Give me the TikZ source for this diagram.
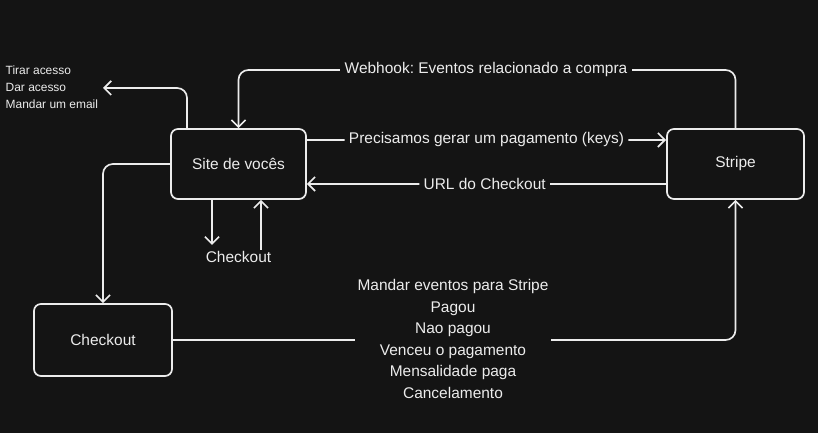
\documentclass[tikz,border=0pt]{standalone}
\usepackage{fontspec}
\setmainfont{Liberation Sans}
\usepackage{tikz}
\usetikzlibrary{arrows.meta,positioning}
\frenchspacing
\definecolor{bg}{RGB}{20,20,20}
\definecolor{ink}{RGB}{236,236,236}
\tikzstyle{box}   = [draw=ink, line width=1.2pt, rounded corners=5pt, fill=bg, text=ink, font=\fontsize{11}{13}\selectfont]
\tikzstyle{arrow} = [draw=ink, line width=1.2pt, rounded corners=7pt, -{Straight Barb[length=5pt,width=10pt]}]
\tikzstyle{lbl}   = [fill=bg, text=ink, inner xsep=3pt, inner ysep=1pt, font=\fontsize{11}{13}\selectfont]
\begin{document}
\begin{tikzpicture}[x=0.025cm,y=0.025cm]
        \fill[bg] (0,0) rectangle (818,433);

        \node[box, minimum width=3.375cm, minimum height=1.75cm] (site) at (238.5,269) {Site de vocês};
        \node[box, minimum width=3.425cm, minimum height=1.75cm] (stripe) at (735.5,269) {Stripe};
        \node[box, minimum width=3.45cm, minimum height=1.8cm] (checkout) at (103,93) {Checkout};

        \node[text=ink, align=left, anchor=west, inner sep=1pt, font=\fontsize{8.5}{12}\selectfont] (acoes) at (4,346) {Tirar acesso\\Dar acesso\\Mandar um email};
        \node[lbl, inner sep=1pt] (chklbl) at (238.5,176) {Checkout};

        \coordinate (hook) at (486,363);
        \coordinate (tirar) at (103,345);

        \draw[arrow] (stripe.north) |- (hook) -| (site.north);
        \node[lbl] (webhook) at (hook) {Webhook: Eventos relacionado a compra};

        \draw[arrow] (site.east |- 0,293) -- node[lbl] (keys) {Precisamos gerar um pagamento (keys)} (stripe.west |- 0,293);
        \draw[arrow] (stripe.west |- 0,249) -- node[lbl, pos=0.505] (url) {URL do Checkout} (site.east |- 0,249);

        \draw[arrow] (187,0 |- site.north) |- (tirar);
        \draw[arrow] (site.west) -| (checkout.north);

        \draw[arrow] (212,0 |- site.south) -- (212,188);
        \draw[arrow] (261,0 |- chklbl.north) -- (261,0 |- site.south);

        \draw[arrow] (checkout.east) -| (stripe.south);
        \node[lbl, align=center, inner xsep=2pt, font=\fontsize{11}{15.3}\selectfont] (eventos) at (453,94) {Mandar eventos para Stripe\\Pagou\\Nao pagou\\Venceu o pagamento\\Mensalidade paga\\Cancelamento};
    \end{tikzpicture}
\end{document}
